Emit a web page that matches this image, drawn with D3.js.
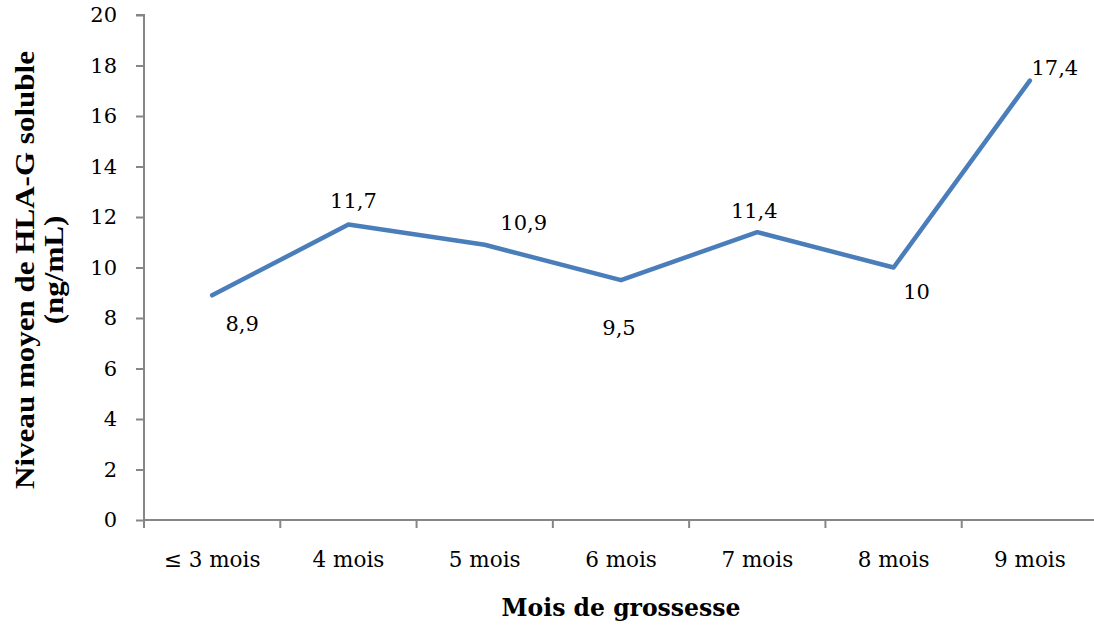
<!DOCTYPE html>
<html><head><meta charset="utf-8">
<script src="https://cdn.jsdelivr.net/npm/d3@7"></script>
<style>body{margin:0;background:#fff}svg{display:block}</style>
</head><body>
<svg id="c" width="1094" height="626"></svg>
<script>
const categories = ["≤ 3 mois","4 mois","5 mois","6 mois","7 mois","8 mois","9 mois"];
const values = [8.9, 11.7, 10.9, 9.5, 11.4, 10, 17.4];
const valueLabels = ["8,9","11,7","10,9","9,5","11,4","10","17,4"];
const yTicks = [0,2,4,6,8,10,12,14,16,18,20];
// label offsets (dx, dy) relative to point, style only
const labelOffsets = [[30,36],[5,-17],[39,-15],[-2,55],[-3,-14],[23,31],[25,-6]];

const svg = d3.select("#c");
const mLeft = 144, mRight = 1098, mTop = 15, mBottom = 520;
const x = d3.scaleBand().domain(categories).range([mLeft, mRight]);
const y = d3.scaleLinear().domain([0,20]).range([mBottom, mTop]);
const serif = "'DejaVu Serif', Georgia, serif";
const axisColor = "#868686";

// Y axis
const ya = svg.append("g").attr("transform", `translate(${mLeft},0)`)
  .call(d3.axisLeft(y).tickValues(yTicks).tickSize(8).tickPadding(19).tickFormat(d3.format("d")));
ya.select(".domain").attr("stroke", axisColor).attr("stroke-width", 2).attr("d", `M-8,${mTop}H0V${mBottom}`);
ya.selectAll(".tick line").attr("stroke", axisColor).attr("stroke-width", 2);
ya.selectAll(".tick text").attr("font-family", serif).attr("font-size", 21).attr("fill", "#000").attr("dy", "0.32em");

// X axis
const xa = svg.append("g").attr("transform", `translate(0,${mBottom})`)
  .call(d3.axisBottom(x).tickSize(0).tickPadding(32));
xa.select(".domain").attr("stroke", axisColor).attr("stroke-width", 2).attr("d", `M${mLeft},0H${mRight}`);
xa.selectAll(".tick text").attr("font-family", serif).attr("font-size", 21.5).attr("fill", "#000");
// boundary ticks
const bounds = categories.map(c => x(c));
xa.selectAll(".bt").data(bounds).enter().append("line")
  .attr("x1", d => d).attr("x2", d => d).attr("y1", 0).attr("y2", 8)
  .attr("stroke", axisColor).attr("stroke-width", 2);

// line
const cx = c => x(c) + x.bandwidth()/2;
const line = d3.line().x((d,i) => cx(categories[i])).y(d => y(d));
svg.append("path").datum(values).attr("d", line)
  .attr("fill", "none").attr("stroke", "#4a7ebb").attr("stroke-width", 4.5)
  .attr("stroke-linejoin", "round").attr("stroke-linecap", "round");

// data labels
svg.selectAll(".lbl").data(values).enter().append("text")
  .attr("x", (d,i) => cx(categories[i]) + labelOffsets[i][0])
  .attr("y", (d,i) => y(d) + labelOffsets[i][1])
  .attr("text-anchor", "middle").attr("font-family", serif).attr("font-size", 21).attr("fill", "#000")
  .text((d,i) => valueLabels[i]);

// axis titles
svg.append("text").attr("x", 621).attr("y", 616).attr("text-anchor", "middle")
  .attr("font-family", serif).attr("font-weight", "bold").attr("font-size", 23.5)
  .text("Mois de grossesse");
const yt = svg.append("text").attr("transform", "translate(34,270) rotate(-90) scale(1.15,1)")
  .attr("text-anchor", "middle").attr("font-family", "'Liberation Serif', 'Times New Roman', serif")
  .attr("font-weight", "bold").attr("font-size", 27);
yt.append("tspan").attr("x", 0).attr("dy", 0).text("Niveau moyen de HLA-G soluble");
yt.append("tspan").attr("x", 0).attr("dy", 29).text("(ng/mL)");
</script>
</body></html>
